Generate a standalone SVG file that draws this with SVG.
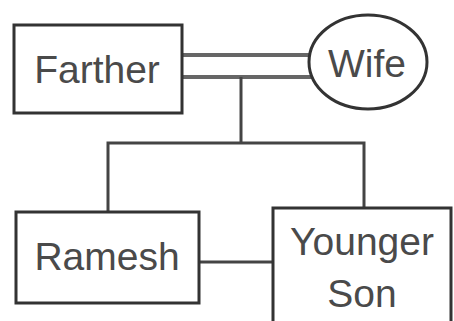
<svg xmlns="http://www.w3.org/2000/svg" width="454" height="321" viewBox="0 0 454 321">
<style>
.box{fill:#fff;stroke:#333;stroke-width:3}
.ln{fill:none;stroke:#444;stroke-width:3}
.dbl{fill:none;stroke:#666;stroke-width:4}
text{font-family:"Liberation Sans",Arial,sans-serif;font-size:39px;fill:#4a4a4a;text-anchor:middle}
</style>
<rect width="454" height="321" fill="#fff"/>
<g id="connectors">
<line class="dbl" x1="182" y1="55" x2="312" y2="55"/>
<line class="dbl" x1="182" y1="77" x2="312" y2="77"/>
<polyline class="ln" points="241,77 241,143"/>
<polyline class="ln" points="108,212 108,143 364,143 364,208"/>
<line class="ln" x1="199" y1="262" x2="273" y2="262"/>
</g>
<g id="farther">
<rect class="box" x="14" y="25" width="168" height="88"/>
<text x="97" y="83">Farther</text>
</g>
<g id="wife">
<ellipse class="box" cx="368" cy="62" rx="59" ry="47"/>
<text x="367" y="77">Wife</text>
</g>
<g id="ramesh">
<rect class="box" x="16" y="212" width="183" height="91"/>
<text x="107" y="270">Ramesh</text>
</g>
<g id="younger-son">
<rect class="box" x="273" y="208" width="178" height="130"/>
<text x="362" y="255">Younger</text>
<text x="362" y="307">Son</text>
</g>
</svg>
